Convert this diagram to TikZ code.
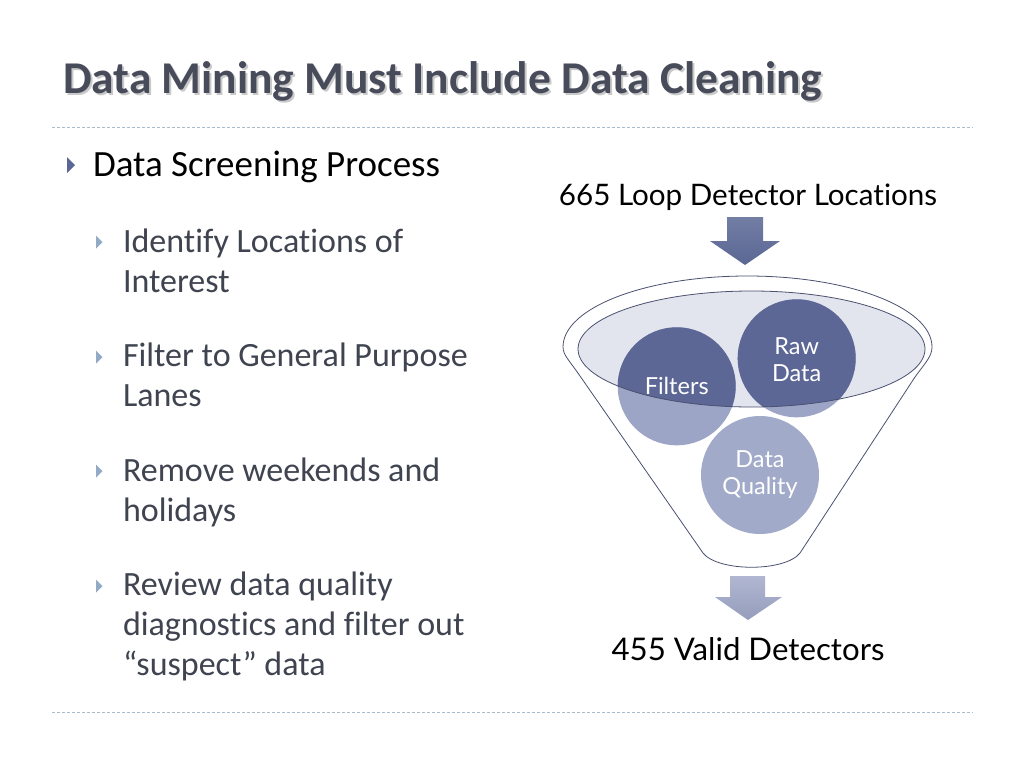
\documentclass[tikz,border=0pt]{standalone}
\usepackage{fontspec}
\setmainfont{Carlito}[Ligatures=NoCommon]
\newfontfamily\gill{Lato}[Ligatures=NoCommon]
\usetikzlibrary{shadings}
\definecolor{titlec}{HTML}{474B5A}
\definecolor{subc}{HTML}{3F4450}
\definecolor{dashc}{HTML}{A9BCCB}
\definecolor{bulmain}{HTML}{5A6794}
\definecolor{bulsub}{HTML}{93AAC6}
\definecolor{darkc}{HTML}{5C6795}
\definecolor{lightc}{HTML}{9DA5C6}
\definecolor{ellc}{HTML}{E3E5EE}
\definecolor{linec}{HTML}{4A5070}
\tikzset{
  txt/.style={anchor=base west,inner sep=0pt,outer sep=0pt},
  maintxt/.style={txt,font=\fontsize{37}{40}\selectfont,text=black},
  subtxt/.style={txt,font=\fontsize{34}{40}\selectfont,text=subc},
  sep/.style={draw=dashc,line width=1pt,dash pattern=on 3pt off 2pt},
  circlab/.style={text=white,font=\gill\fontsize{23.5}{27}\selectfont,align=center,inner sep=0pt},
  funnelline/.style={draw=linec,line width=0.8pt},
  subbul/.style={fill=bulsub},
}
\begin{document}
\begin{tikzpicture}[x=1pt,y=-1pt]
\useasboundingbox[fill=white] (0,0) rectangle (1024,768);
% title
\node[txt,font=\bfseries\fontsize{45.5}{48}\selectfont,text=black!35,opacity=0.6] (tshadow) at (65,95) {Data Mining Must Include Data Cleaning};
\node[txt,font=\bfseries\fontsize{45.5}{48}\selectfont,text=titlec] (title) at (63,93) {Data Mining Must Include Data Cleaning};
% separators
\coordinate (s1a) at (52,127); \coordinate (s1b) at (973,127);
\coordinate (s2a) at (52,712); \coordinate (s2b) at (973,712);
\draw[sep] (s1a) -- (s1b);
\draw[sep] (s2a) -- (s2b);
% bullets
\fill[bulmain] (67,157) -- (75,165) -- (67,173) -- cycle;
\node[maintxt] (b0) at (93,176) {Data Screening Process};
\foreach \y in {242,357,471,586}{
  \fill[subbul] (96,\y-6.5) -- (102.5,\y) -- (96,\y+6.5) -- cycle;
}
\node[subtxt] (b1a) at (123,252) {Identify Locations of};
\node[subtxt] (b1b) at (123,292) {Interest};
\node[subtxt] (b2a) at (123,366) {Filter to General Purpose};
\node[subtxt] (b2b) at (123,406) {Lanes};
\node[subtxt] (b3a) at (123,481) {Remove weekends and};
\node[subtxt] (b3b) at (123,521) {holidays};
\node[subtxt] (b4a) at (123,595) {Review data quality};
\node[subtxt] (b4b) at (123,635) {diagnostics and filter out};
\node[subtxt] (b4c) at (123,675) {“suspect” data};
% funnel
\node[font=\gill\fontsize{29.6}{32}\selectfont,anchor=base,inner sep=0pt] (top) at (748,205) {665 Loop Detector Locations};
\shade[top color=bulmain!85!white,bottom color=bulmain] (727,217) -- (763,217) -- (763,241) -- (780,241) -- (745,265) -- (710,241) -- (727,241) -- cycle;
\draw[funnelline] (563,347) arc[start angle=180,end angle=360,x radius=184.5,y radius=71]
  .. controls (932,356) and (926,362) .. (915,377)
  -- (800,553)
  .. controls (785,572) and (718,572) .. (703,553)
  -- (580,376)
  .. controls (569,360) and (563,355) .. cycle;
\fill[ellc] (751.5,349) ellipse[x radius=173.5,y radius=58];
\fill[lightc] (676.7,386.3) circle (59);
\fill[lightc] (796.7,358.3) circle (59);
\fill[lightc!95!white] (760,475) circle (59);
\begin{scope}
  \clip (751.5,349) ellipse[x radius=173.5,y radius=58];
  \fill[darkc] (676.7,386.3) circle (59);
  \fill[darkc] (796.7,358.3) circle (59);
\end{scope}
\draw[funnelline] (751.5,349) ellipse[x radius=173.5,y radius=58];
\node[circlab] (filters) at (676.7,386) {Filters};
\node[circlab] (raw) at (796.7,360) {Raw\\Data};
\node[circlab] (dq) at (760,475) {Data\\Quality};
\shade[top color=lightc!80!white,bottom color=lightc!95!black] (730,576) -- (765,576) -- (765,597) -- (782,597) -- (748,620) -- (715,597) -- (730,597) -- cycle;
\node[font=\gill\fontsize{31.2}{34}\selectfont,anchor=base,inner sep=0pt] (bot) at (748,660) {455 Valid Detectors};
\end{tikzpicture}
\end{document}
